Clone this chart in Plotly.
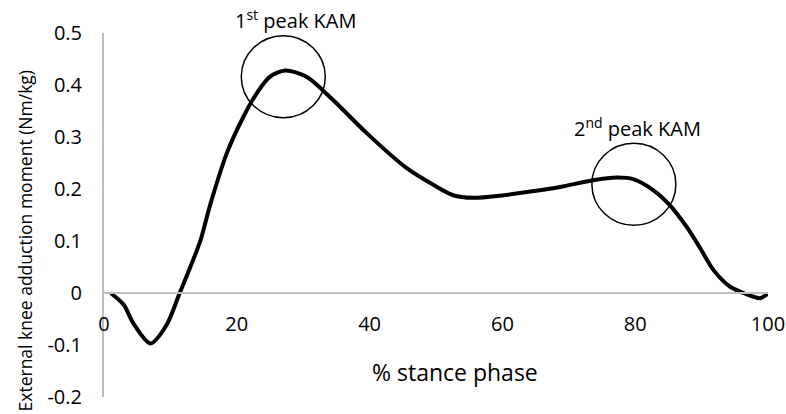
import plotly.graph_objects as go

# % stance phase and external knee adduction moment (Nm/kg)
stance = [1, 3, 4.4, 7, 9.4, 11.4, 13, 14.5, 16, 18.5, 21, 23, 25, 27.3, 30.5, 34.5,
          39.6, 45.6, 49.6, 52.6, 55.6, 59.6, 64.2, 68.7, 73.7, 77.2, 79.7, 82.7,
          85.2, 87.7, 89.8, 91.8, 94.3, 96.3, 98.8, 100]
kam = [0.0, -0.023, -0.058, -0.097, -0.062, 0.0, 0.05, 0.10, 0.17, 0.269, 0.339, 0.384,
       0.416, 0.428, 0.416, 0.371, 0.307, 0.240, 0.208, 0.188, 0.183, 0.187, 0.195,
       0.204, 0.217, 0.222, 0.219, 0.198, 0.169, 0.128, 0.086, 0.044, 0.012, 0.0,
       -0.010, -0.001]

x_tick_vals = [0, 20, 40, 60, 80, 100]
x_tick_text = ["0", "20", "40", "60", "80", "100"]
y_tick_vals = [-0.2, -0.1, 0, 0.1, 0.2, 0.3, 0.4, 0.5]
y_tick_text = ["-0.2", "-0.1", "0", "0.1", "0.2", "0.3", "0.4", "0.5"]

peak_x = [27.0, 79.8]
peak_y = [0.416, 0.209]
peak_labels = ["1<sup>st</sup> peak KAM", "2<sup>nd</sup> peak KAM"]

FONT = "Open Sans"

fig = go.Figure()
fig.add_trace(go.Scatter(
    x=stance, y=kam, mode="lines",
    line=dict(color="black", width=4, shape="spline", smoothing=0.8),
    showlegend=False, hoverinfo="skip",
))

for cx, cy in zip(peak_x, peak_y):
    fig.add_shape(type="circle", xref="x", yref="y",
                  xsizemode="pixel", ysizemode="pixel",
                  xanchor=cx, yanchor=cy,
                  x0=-42, x1=42, y0=-41, y1=41,
                  line=dict(color="black", width=1.5))

label_pos = [(0.289, 1.038), (0.803, 0.74)]
for (lx, ly), txt in zip(label_pos, peak_labels):
    fig.add_annotation(x=lx, y=ly, xref="paper", yref="paper", text=txt, showarrow=False,
                       xanchor="center", yanchor="middle",
                       font=dict(family=FONT, size=20, color="black"))

fig.add_annotation(x=0.529, y=0.07, xref="paper", yref="paper", text="% stance phase",
                   showarrow=False, xanchor="center", yanchor="middle",
                   font=dict(family=FONT, size=23, color="black"))
fig.add_annotation(x=-0.119, y=0.43, xref="paper", yref="paper",
                   text="External knee adduction moment (Nm/kg)", textangle=-90,
                   showarrow=False, xanchor="center", yanchor="middle",
                   font=dict(family=FONT, size=17.5, color="black"))

fig.update_layout(
    width=786, height=414,
    margin=dict(l=104, r=18, t=33, b=17, autoexpand=False),
    paper_bgcolor="white", plot_bgcolor="white",
    xaxis=dict(range=[0, 100], tickvals=x_tick_vals, ticktext=x_tick_text,
               showgrid=False, zeroline=False, showline=True,
               linecolor="#bfbfbf", linewidth=2,
               anchor="free", position=2 / 7, ticks="", automargin=False,
               ticklabelstandoff=13,
               tickfont=dict(family=FONT, size=20, color="black")),
    yaxis=dict(range=[-0.2, 0.5], tickvals=y_tick_vals, ticktext=y_tick_text,
               showgrid=False, zeroline=False, showline=True, automargin=False,
               linecolor="#bfbfbf", linewidth=2, ticks="",
               ticklabelstandoff=16,
               tickfont=dict(family=FONT, size=20, color="black")),
)

fig.write_html("out.html")
